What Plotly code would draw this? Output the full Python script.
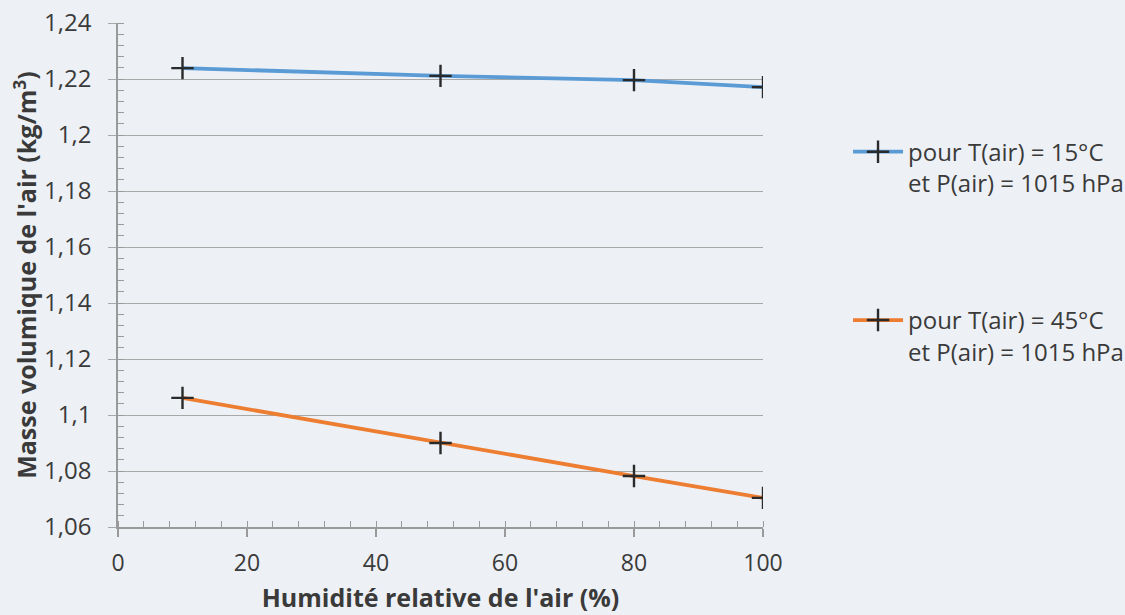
import plotly.graph_objects as go

humidity = [10, 50, 80, 100]
rho_15 = [1.2239, 1.2211, 1.2196, 1.2171]
rho_45 = [1.1061, 1.0900, 1.0782, 1.0704]
series_names = ["pour T(air) = 15°C<br>et P(air) = 1015 hPa",
                "pour T(air) = 45°C<br>et P(air) = 1015 hPa"]
y_ticks = [1.06, 1.08, 1.10, 1.12, 1.14, 1.16, 1.18, 1.20, 1.22, 1.24]
y_ticktext = ["1,06", "1,08", "1,1", "1,12", "1,14", "1,16", "1,18", "1,2", "1,22", "1,24"]
x_ticks = [0, 20, 40, 60, 80, 100]

FONT = "Open Sans"
TXT = "#3a3a3a"
marker = dict(symbol="cross-thin", size=16, line=dict(color="#2a2a2a", width=2.4), color="#2a2a2a")

fig = go.Figure()
fig.add_trace(go.Scatter(x=humidity, y=rho_15, mode="lines+markers", name=series_names[0],
                         line=dict(color="#5b9bd5", width=3.8), marker=marker, legend="legend"))
fig.add_trace(go.Scatter(x=humidity, y=rho_45, mode="lines+markers", name=series_names[1],
                         line=dict(color="#ed7d31", width=3.8), marker=marker, legend="legend2"))

axis_color = "#9a9a9a"
legend_common = dict(xref="container", yref="container", xanchor="left", yanchor="middle",
                     bgcolor="rgba(0,0,0,0)", font=dict(size=24, color=TXT, family=FONT),
                     itemwidth=50, valign="top")
fig.update_layout(
    width=1125, height=615,
    showlegend=True,
    margin=dict(l=118, r=362, t=23, b=88),
    paper_bgcolor="#edf1f6", plot_bgcolor="#edf1f6",
    font=dict(family=FONT, color=TXT),
    xaxis=dict(range=[0, 100], tickvals=x_ticks, showgrid=False, zeroline=False,
               showline=True, linecolor=axis_color, linewidth=1.5,
               ticks="outside", ticklen=8, tickcolor=axis_color, tickwidth=1.5,
               ticklabelstandoff=7, automargin=False,
               tickfont=dict(size=23, color=TXT, family=FONT),
               minor=dict(ticks="inside", dtick=4, ticklen=6, tickcolor=axis_color, tickwidth=1.2, showgrid=False),
               title=dict(text="<b>Humidité relative de l'air (%)</b>", standoff=12,
                          font=dict(size=25, color=TXT, family=FONT))),
    yaxis=dict(range=[1.06, 1.24], tickvals=y_ticks, ticktext=y_ticktext,
               showgrid=True, gridcolor="#a8a8a8", gridwidth=1.3, zeroline=False,
               showline=True, linecolor=axis_color, linewidth=1.5,
               ticks="outside", ticklen=8, tickcolor="#a8a8a8", tickwidth=1.3,
               ticklabelstandoff=12, automargin="left",
               tickfont=dict(size=24, color=TXT, family=FONT),
               minor=dict(ticks="inside", dtick=0.004, ticklen=6, tickcolor=axis_color, tickwidth=1.2, showgrid=False),
               title=dict(text="<b>Masse volumique de l'air (kg/m<sup>3</sup>)</b>", standoff=0,
                          font=dict(size=25, color=TXT, family=FONT))),
    legend=dict(x=0.7538, y=0.7275, **legend_common),
    legend2=dict(x=0.7538, y=0.4537, **legend_common),
)

fig.write_html("out.html", config={"displayModeBar": False},
               post_script="document.body.style.margin='0';")
